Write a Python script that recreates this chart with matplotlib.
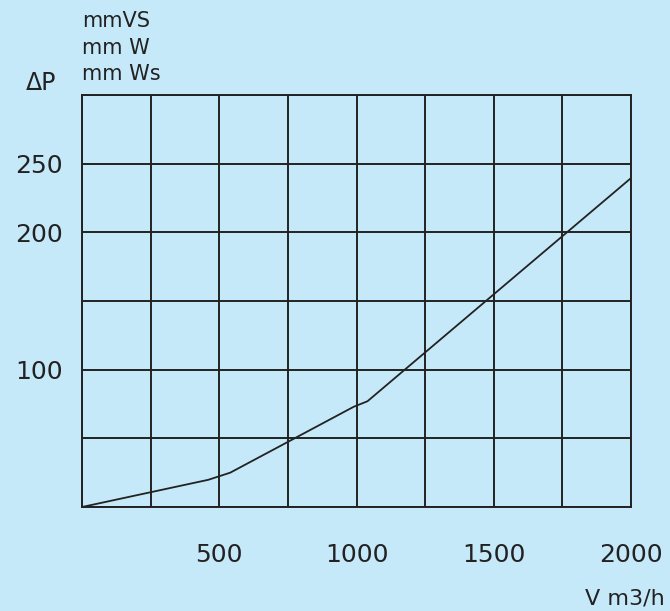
import matplotlib
matplotlib.use("Agg")
import matplotlib.pyplot as plt

# curve: airflow (m3/h) vs pressure drop
flow = [0, 460, 540, 990, 1040, 2000]
dp = [0, 19.8, 25, 73, 77, 239.5]

x_grid = [0, 250, 500, 750, 1000, 1250, 1500, 1750, 2000]
x_labels = ["", "", "500", "", "1000", "", "1500", "", "2000"]
y_grid = [0, 50, 100, 150, 200, 250, 300]
y_labels = ["", "", "100", "", "200", "250", ""]

bg = "#c6e9f9"
ink = "#222222"

plt.rcParams['font.family'] = ['DejaVu Sans']

fig = plt.figure(figsize=(6.70, 6.11), dpi=100, facecolor=bg)
ax = fig.add_axes([82 / 670, 104 / 611, 549 / 670, 412 / 611])
ax.set_facecolor(bg)

ax.plot(flow, dp, color=ink, linewidth=1.3, solid_joinstyle="miter")

ax.set_xlim(0, 2000)
ax.set_ylim(0, 300)
ax.set_xticks(x_grid)
ax.set_xticklabels(x_labels)
ax.set_yticks(y_grid)
ax.set_yticklabels(y_labels)
ax.grid(True, color=ink, linewidth=1.4)
ax.tick_params(length=0, colors=ink, labelsize=18)
ax.tick_params(axis="x", pad=26)
ax.tick_params(axis="y", pad=14)
for s in ax.spines.values():
    s.set_color(ink)
    s.set_linewidth(1.4)

fig.text(82 / 670, 1 - 21 / 611, "mmVS", fontsize=15, color=ink, va="center", ha="left")
fig.text(82 / 670, 1 - 48 / 611, "mm W", fontsize=15, color=ink, va="center", ha="left")
fig.text(82 / 670, 1 - 74 / 611, "mm Ws", fontsize=15, color=ink, va="center", ha="left")
fig.text(26 / 670, 1 - 83 / 611, "ΔP", fontsize=17, color=ink, va="center", ha="left")
fig.text(665 / 670, 1 - 598 / 611, "V m3/h", fontsize=16, color=ink, va="center", ha="right")

fig.savefig("out.png", dpi=100, facecolor=bg)
